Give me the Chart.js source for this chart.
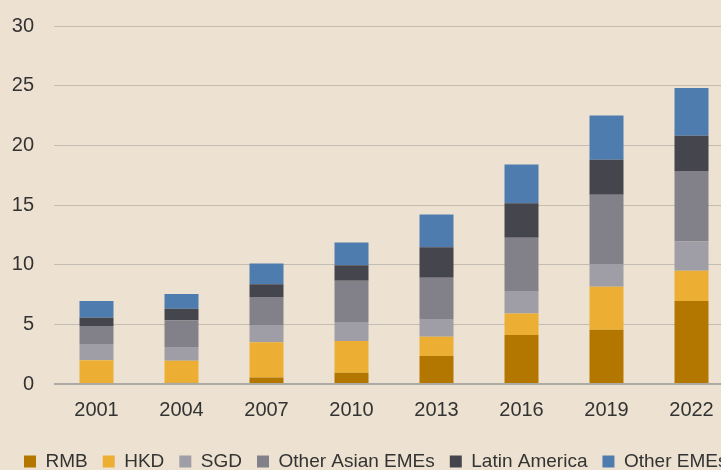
<!DOCTYPE html>
<html>
<head>
<meta charset="utf-8">
<script src="https://cdn.jsdelivr.net/npm/chart.js@4"></script>
<style>
  html, body { margin: 0; padding: 0; background: #EDE2D1; overflow: hidden; }
  #wrap { width: 721px; height: 470px; overflow: hidden; position: relative; background: #EDE2D1; }
  canvas { display: block; }
</style>
</head>
<body>
<div id="wrap"><canvas id="c" width="752" height="481"></canvas></div>
<script>
const categories = ['2001', '2004', '2007', '2010', '2013', '2016', '2019', '2022'];
const rmb        = [0,    0.1,  0.55, 0.95, 2.35, 4.1,  4.55, 6.95];
const hkd        = [2.0,  1.85, 2.95, 2.65, 1.6,  1.8,  3.6,  2.55];
const sgd        = [1.35, 1.15, 1.45, 1.6,  1.5,  1.9,  1.9,  2.45];
const otherAsian = [1.5,  2.25, 2.35, 3.45, 3.45, 4.45, 5.8,  5.9];
const latAm      = [0.7,  0.95, 1.05, 1.3,  2.55, 2.9,  2.95, 2.95];
const otherEMEs  = [1.4,  1.25, 1.75, 1.9,  2.75, 3.25, 3.7,  4.0];
const yTicks     = [0, 5, 10, 15, 20, 25, 30];

const seriesNames  = ['RMB', 'HKD', 'SGD', 'Other Asian EMEs', 'Latin America', 'Other EMEs'];
const seriesData   = [rmb, hkd, sgd, otherAsian, latAm, otherEMEs];
const seriesColors = ['#B37700', '#ECAF34', '#9F9EA6', '#82818A', '#45454D', '#4E7CAE'];

const FONT = "'Liberation Sans', Arial, Helvetica, sans-serif";
const TEXT = '#333333';

new Chart(document.getElementById('c'), {
  type: 'bar',
  data: {
    labels: categories,
    datasets: seriesNames.map((n, i) => ({
      label: n,
      data: seriesData[i],
      backgroundColor: seriesColors[i],
      borderWidth: 0,
      barPercentage: 0.4,
      categoryPercentage: 1.0
    }))
  },
  options: {
    responsive: false,
    animation: false,
    devicePixelRatio: 1,
    layout: { padding: { left: 9, top: 26, right: 0, bottom: 0 } },
    plugins: {
      tooltip: { enabled: false },
      legend: {
        position: 'bottom',
        align: 'start',
        labels: {
          boxWidth: 12,
          boxHeight: 12,
          padding: 15,
          color: TEXT,
          font: { family: FONT, size: 19 }
        }
      }
    },
    scales: {
      x: {
        stacked: true,
        grid: { display: false, drawTicks: false },
        border: { display: false },
        ticks: { color: TEXT, font: { family: FONT, size: 20 }, padding: 14, maxRotation: 0 },
        afterFit: s => { s.height = 53; s.paddingLeft = 0; s.paddingRight = 0; }
      },
      y: {
        stacked: true,
        min: 0,
        max: 30,
        afterBuildTicks: s => { s.ticks = yTicks.map(v => ({ value: v })); },
        grid: {
          drawTicks: false,
          color: c => c.tick && c.tick.value === 0 ? '#ADA9A4' : '#C2BCB2',
          lineWidth: c => c.tick && c.tick.value === 0 ? 2 : 1
        },
        border: { display: false },
        ticks: { color: TEXT, font: { family: FONT, size: 20 }, padding: 20 },
        afterFit: s => { s.width = 45; s.paddingTop = 0; s.paddingBottom = 0; }
      },
      yRight: {
        position: 'right',
        display: true,
        grid: { display: false, drawTicks: false },
        border: { display: false },
        ticks: { display: false },
        afterFit: s => { s.width = 18; s.paddingTop = 0; s.paddingBottom = 0; }
      }
    }
  }
});
</script>
</body>
</html>
